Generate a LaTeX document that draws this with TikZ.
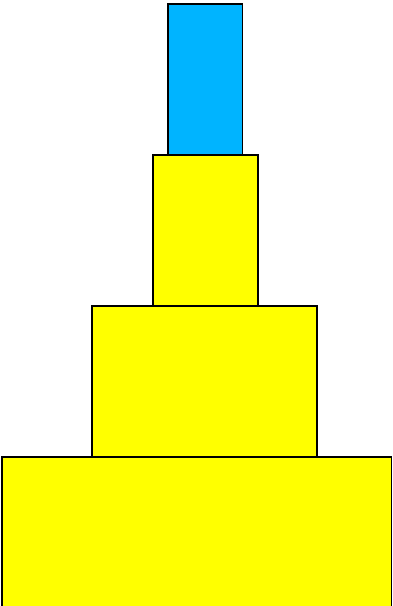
\documentclass[tikz,border=0pt]{standalone}
\usetikzlibrary{positioning}
\definecolor{tierblue}{HTML}{00B4FF}
\definecolor{tieryellow}{HTML}{FFFF00}

\begin{document}
\begin{tikzpicture}[x=1pt, y=-1pt, line width=1.3pt]
\tikzset{tier/.style={draw=black, fill=tieryellow}}

% Canvas
\useasboundingbox (0,0) rectangle (393,606);
\clip (0,0) rectangle (393,606);

% Bottom tier (runs off the page)
\draw[tier] (2,457) rectangle (391.5,620);

% Third tier
\draw[tier] (92,306) rectangle (317,457);

% Second tier
\draw[tier] (153,155) rectangle (258,306);

% Top block
\draw[tier, fill=tierblue] (168,4) rectangle (242.5,155);

\end{tikzpicture}
\end{document}
